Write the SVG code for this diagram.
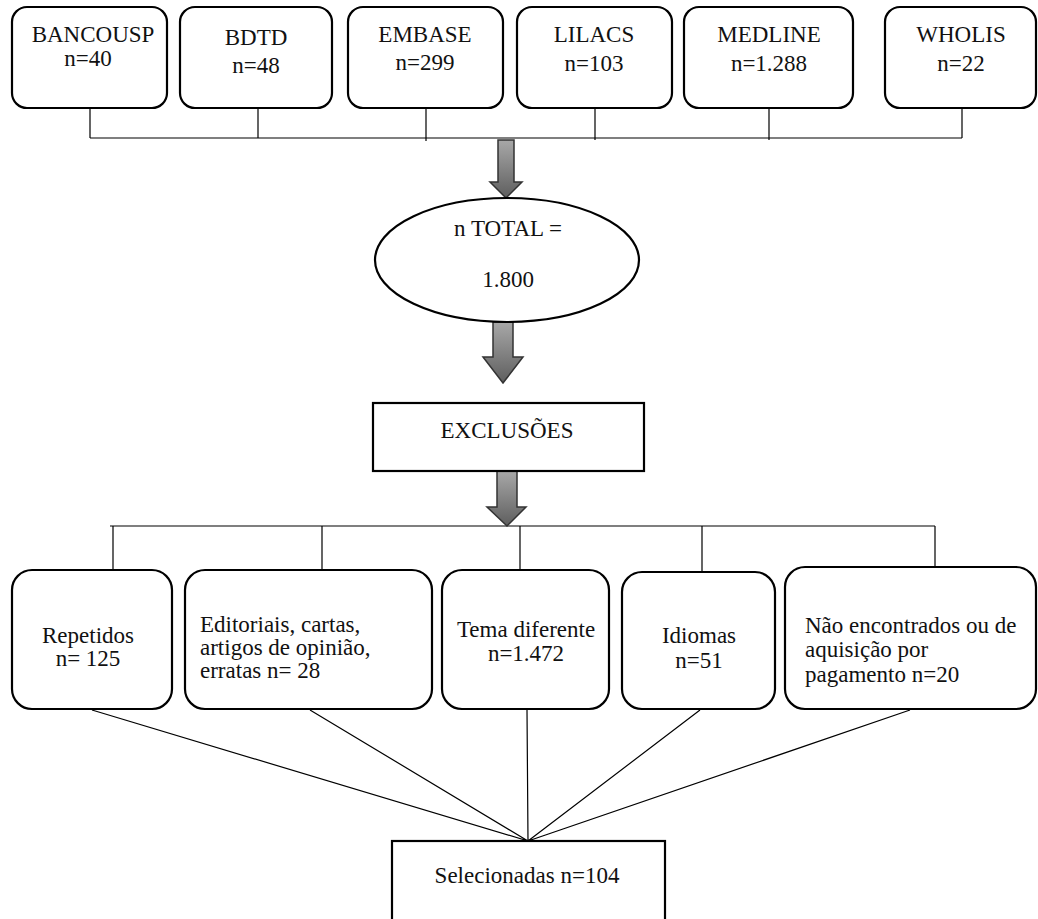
<svg xmlns="http://www.w3.org/2000/svg" width="1038" height="919" viewBox="0 0 1038 919">
<style>
  .box { fill: #ffffff; stroke: #000000; stroke-width: 2.2; }
  .t { font-family: "Liberation Serif", "Times New Roman", serif; font-size: 23px; fill: #111111; }
  .c { text-anchor: middle; }
  .ln { stroke: #000000; stroke-width: 1.2; fill: none; }
  .arr { fill: url(#g); stroke: #333333; stroke-width: 1.5; }
</style>
<defs>
  <linearGradient id="g" x1="0" y1="0" x2="0" y2="1">
    <stop offset="0" stop-color="#a8a8a8"/>
    <stop offset="1" stop-color="#5e5e5e"/>
  </linearGradient>
</defs>
<rect width="1038" height="919" fill="#ffffff"/>

<g id="connectors">
  <path class="ln" d="M90,108 V138 M258,108 V138 M426,108 V141 M595,108 V140 M769,108 V140 M962,108 V138 M90,138 H962"/>
  <path class="ln" d="M110,526 H935 M113,526 V570 M322,526 V570 M520,526 V570 M702,526 V572 M935,526 V567"/>
  <path class="ln" d="M92,710 L528,841 M310,710 L528,841 M527,710 L528,841 M700,710 L528,841 M910,710 L528,841"/>
  <path class="arr" d="M498,140 H514 V182 H522 L506,198 L490,182 H498 Z"/>
  <path class="arr" d="M493,322 H513 V357 H523 L503,383 L483,357 H493 Z"/>
  <path class="arr" d="M497,471 H517 V507 H526 L507,526 L487,507 H497 Z"/>
</g>

<g id="bancousp">
  <rect class="box" x="12" y="7" width="155" height="101" rx="15"/>
  <text class="t c" x="93" y="42">BANCOUSP</text>
  <text class="t c" x="88" y="66">n=40</text>
</g>
<g id="bdtd">
  <rect class="box" x="180" y="7" width="152" height="101" rx="15"/>
  <text class="t c" x="256" y="45">BDTD</text>
  <text class="t c" x="256" y="73">n=48</text>
</g>
<g id="embase">
  <rect class="box" x="348" y="7" width="155" height="101" rx="15"/>
  <text class="t c" x="425" y="42">EMBASE</text>
  <text class="t c" x="425" y="70">n=299</text>
</g>
<g id="lilacs">
  <rect class="box" x="517" y="7" width="155" height="101" rx="15"/>
  <text class="t c" x="594" y="42">LILACS</text>
  <text class="t c" x="594" y="71">n=103</text>
</g>
<g id="medline">
  <rect class="box" x="684" y="7" width="169" height="101" rx="15"/>
  <text class="t c" x="769" y="42">MEDLINE</text>
  <text class="t c" x="769" y="71">n=1.288</text>
</g>
<g id="wholis">
  <rect class="box" x="885" y="7" width="151" height="101" rx="15"/>
  <text class="t c" x="961" y="42">WHOLIS</text>
  <text class="t c" x="961" y="71">n=22</text>
</g>

<g id="total">
  <ellipse class="box" cx="507" cy="260" rx="132" ry="62"/>
  <text class="t c" x="508" y="236">n TOTAL =</text>
  <text class="t c" x="508" y="287">1.800</text>
</g>

<g id="exclusoes">
  <rect class="box" x="373" y="403" width="271" height="68"/>
  <text class="t c" x="507" y="438">EXCLUSÕES</text>
</g>

<g id="repetidos">
  <rect class="box" x="12" y="570" width="160" height="139" rx="20"/>
  <text class="t c" x="88" y="643">Repetidos</text>
  <text class="t c" x="88" y="666">n= 125</text>
</g>
<g id="editoriais">
  <rect class="box" x="185" y="570" width="247" height="139" rx="20"/>
  <text class="t" x="200" y="632">Editoriais, cartas,</text>
  <text class="t" x="200" y="655">artigos de opinião,</text>
  <text class="t" x="200" y="678">erratas n= 28</text>
</g>
<g id="tema">
  <rect class="box" x="442" y="570" width="167" height="139" rx="20"/>
  <text class="t c" x="526" y="637">Tema diferente</text>
  <text class="t c" x="526" y="661">n=1.472</text>
</g>
<g id="idiomas">
  <rect class="box" x="622" y="572" width="153" height="137" rx="20"/>
  <text class="t c" x="699" y="643">Idiomas</text>
  <text class="t c" x="699" y="668">n=51</text>
</g>
<g id="nao">
  <rect class="box" x="785" y="567" width="251" height="142" rx="20"/>
  <text class="t" x="805" y="633">Não encontrados ou de</text>
  <text class="t" x="805" y="657">aquisição por</text>
  <text class="t" x="805" y="682">pagamento n=20</text>
</g>

<g id="selecionadas">
  <rect class="box" x="392" y="841" width="273" height="90"/>
  <text class="t c" x="527" y="883">Selecionadas n=104</text>
</g>
</svg>
